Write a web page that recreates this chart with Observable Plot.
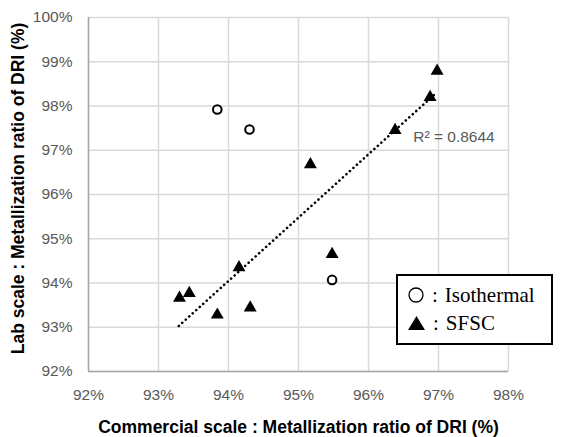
<!DOCTYPE html>
<html>
<head>
<meta charset="utf-8">
<script src="https://cdn.jsdelivr.net/npm/d3@7"></script>
<script src="https://cdn.jsdelivr.net/npm/@observablehq/plot@0.6"></script>
<style>
  html, body { margin: 0; padding: 0; background: #fff; }
  #wrap { position: relative; width: 576px; height: 437px; }
  #legend {
    position: absolute; left: 396px; top: 274px; width: 153px; height: 67px;
    border: 2px solid #000; background: #fff;
    font-family: "Liberation Serif", "DejaVu Serif", serif; font-size: 21px; color: #000;
  }
  .row { position: absolute; left: 0; height: 24px; display: flex; align-items: center; white-space: nowrap; }
  .row svg { margin-left: 10px; }
  .row .colon { margin-left: 8px; }
  .row .lab { margin-left: 7px; }
  svg.plot text { font-family: "Liberation Sans", Arial, sans-serif; }
</style>
</head>
<body>
<div id="wrap"></div>
<script>
// ---- data ----
const xTicks = [92, 93, 94, 95, 96, 97, 98];
const yTicks = [92, 93, 94, 95, 96, 97, 98, 99, 100];

const isoX = [93.84, 94.30, 95.48];
const isoY = [97.92, 97.47, 94.07];

const sfscX = [93.30, 93.44, 93.84, 94.15, 94.31, 95.17, 95.48, 96.38, 96.88, 96.98];
const sfscY = [93.66, 93.77, 93.28, 94.35, 93.44, 96.68, 94.65, 97.45, 98.20, 98.79];

const trendX = [93.29, 96.95];
const trendY = [93.03, 98.27];

const r2Label = ["R\u00B2 = 0.8644"];
const r2X = [96.64];
const r2Y = [97.31];

const xTitle = "Commercial scale : Metallization ratio of DRI (%)";
const yTitle = "Lab scale : Metallization ratio of DRI (%)";
const legendLabels = ["Isothermal", "SFSC"];

// ---- tables ----
const iso = isoX.map((x, i) => ({x, y: isoY[i]}));
const sfsc = sfscX.map((x, i) => ({x, y: sfscY[i]}));
const trend = trendX.map((x, i) => ({x, y: trendY[i]}));
const r2 = r2Label.map((t, i) => ({t, x: r2X[i], y: r2Y[i]}));

const chart = Plot.plot({
  width: 576,
  height: 437,
  marginLeft: 88,
  marginRight: 68,
  marginTop: 17,
  marginBottom: 66,
  style: {background: "#fff", overflow: "visible"},
  x: {domain: [92, 98], ticks: xTicks, tickFormat: d => d + "%"},
  y: {domain: [92, 100], ticks: yTicks, tickFormat: d => d + "%"},
  marks: [
    Plot.gridX(xTicks, {stroke: "#d9d9d9", strokeOpacity: 1, strokeWidth: 1.5}),
    Plot.gridY(yTicks, {stroke: "#d9d9d9", strokeOpacity: 1, strokeWidth: 1.5}),
    Plot.ruleX([92], {stroke: "#a6a6a6", strokeWidth: 1.5}),
    Plot.ruleY([92], {stroke: "#a6a6a6", strokeWidth: 1.5}),
    Plot.axisX(xTicks, {tickSize: 0, tickPadding: 17, fontSize: 15.5, fill: "#595959", label: null, tickFormat: d => d + "%"}),
    Plot.axisY(yTicks, {tickSize: 0, tickPadding: 16, fontSize: 15.5, fill: "#595959", label: null, tickFormat: d => d + "%"}),
    Plot.line(trend, {x: "x", y: "y", stroke: "#000", strokeWidth: 2.6, strokeDasharray: "0.01,4.7", strokeLinecap: "round"}),
    Plot.dot(iso, {x: "x", y: "y", r: 4.3, stroke: "#000", strokeWidth: 2, fill: "#fff"}),
    Plot.dot(sfsc, {x: "x", y: "y", r: 4.8, symbol: "triangle", fill: "#000", stroke: "none"}),
    Plot.text(r2, {x: "x", y: "y", text: "t", textAnchor: "start", fontSize: 15.5, fill: "#595959"}),
    Plot.text([xTitle], {frameAnchor: "bottom", dy: 56, textAnchor: "middle", lineAnchor: "middle", fontSize: 17.5, fontWeight: "bold", fill: "#000"}),
    Plot.text([yTitle], {frameAnchor: "left", dx: -70, dy: -6, textAnchor: "middle", lineAnchor: "middle", rotate: -90, fontSize: 17.5, fontWeight: "bold", fill: "#000"})
  ]
});
chart.classList.add("plot");
const wrap = document.getElementById("wrap");
wrap.appendChild(chart);

// legend (HTML overlay)
const legend = document.createElement("div");
legend.id = "legend";
const symbols = [
  '<svg width="16" height="16" viewBox="0 0 16 16"><circle cx="8" cy="8" r="7" fill="none" stroke="#000" stroke-width="1.3"/></svg>',
  '<svg width="17" height="16" viewBox="0 0 17 16"><path d="M8.5 1 L17 15 L0 15 Z" fill="#000"/></svg>'
];
legendLabels.forEach((lab, i) => {
  const row = document.createElement("div");
  row.className = "row";
  row.style.top = (7 + i * 28) + "px";
  row.innerHTML = symbols[i] + '<span class="colon">:</span><span class="lab">' + lab + "</span>";
  legend.appendChild(row);
});
wrap.appendChild(legend);
</script>
</body>
</html>
